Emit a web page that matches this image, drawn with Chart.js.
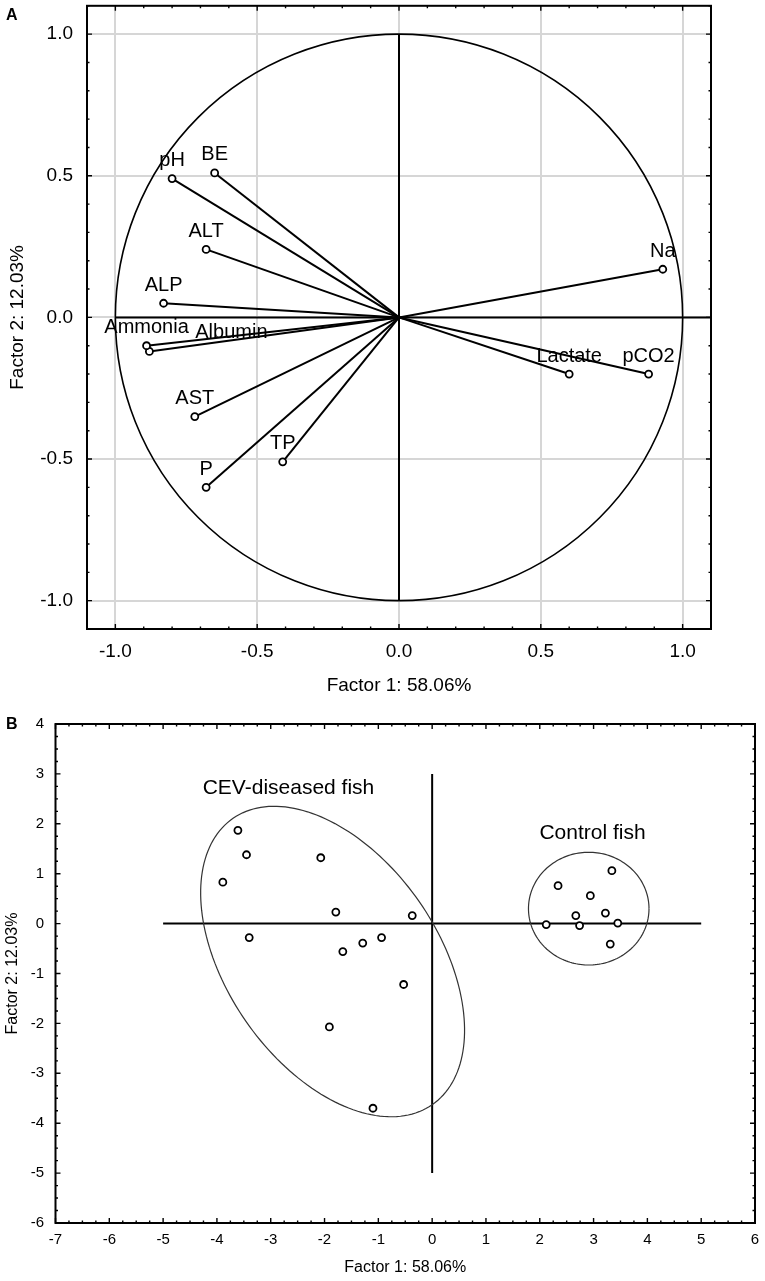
<!DOCTYPE html>
<html>
<head>
<meta charset="utf-8">
<script src="https://cdn.jsdelivr.net/npm/chart.js@4.4.1/dist/chart.umd.min.js"></script>
<style>
  body { margin: 0; background: #fff; width: 765px; height: 1281px; position: relative; overflow: hidden;
         font-family: "Liberation Sans", Arial, sans-serif; }
  .box { position: absolute; left: 0; width: 765px; }
  #boxA { top: 0; height: 700px; }
  #boxB { top: 700px; height: 581px; }
  .tag { position: absolute; left: 6px; font-weight: bold; font-size: 16px; line-height: 16px; color: #000; }
</style>
</head>
<body>
<div class="box" id="boxA"><canvas id="chartA"></canvas></div>
<div class="box" id="boxB"><canvas id="chartB"></canvas></div>
<div class="tag" style="top:7px">A</div>
<div class="tag" style="top:716px">B</div>
<script>
const FONT = '"Liberation Sans", Arial, sans-serif';

// panel A - factor loadings
const variables = ['pH', 'BE', 'ALT', 'ALP', 'Ammonia', 'Albumin', 'AST', 'TP', 'P', 'Lactate', 'pCO2', 'Na'];
const loading1 = [-0.80, -0.65, -0.68, -0.83, -0.89, -0.88, -0.72, -0.41, -0.68, 0.60, 0.88, 0.93];
const loading2 = [0.49, 0.51, 0.24, 0.05, -0.10, -0.12, -0.35, -0.51, -0.60, -0.20, -0.20, 0.17];
const loadingTicks = [-1.0, -0.5, 0.0, 0.5, 1.0];

// panel B - case scores
const cevX = [-3.61, -3.45, -3.89, -2.07, -1.79, -0.37, -3.40, -0.94, -1.29, -1.66, -0.53, -1.91, -1.10];
const cevY = [1.87, 1.38, 0.83, 1.32, 0.23, 0.16, -0.28, -0.28, -0.39, -0.56, -1.22, -2.07, -3.70];
const controlX = [3.34, 2.34, 2.94, 2.67, 3.22, 2.12, 2.74, 3.45, 3.31];
const controlY = [1.06, 0.76, 0.56, 0.16, 0.21, -0.02, -0.04, 0.01, -0.41];
const groupNames = ['CEV-diseased fish', 'Control fish'];
const scoreTicksX = [-7, -6, -5, -4, -3, -2, -1, 0, 1, 2, 3, 4, 5, 6];
const scoreTicksY = [-6, -5, -4, -3, -2, -1, 0, 1, 2, 3, 4];

// frame with inward major/minor ticks on all four sides
function drawFrame(chart, minorStep, majorStep) {
  const {ctx, chartArea: a, scales: {x, y}} = chart;
  ctx.save();
  ctx.strokeStyle = '#000';
  ctx.lineWidth = 1.4;
  ctx.beginPath();
  const mark = (scale, horiz) => {
    const n0 = Math.ceil(scale.min / minorStep - 1e-6);
    const n1 = Math.floor(scale.max / minorStep + 1e-6);
    for (let i = n0; i <= n1; i++) {
      const v = i * minorStep;
      const len = Math.abs(v / majorStep - Math.round(v / majorStep)) < 1e-6 ? 5 : 2.5;
      const p = scale.getPixelForValue(v);
      if (horiz) {
        ctx.moveTo(p, a.bottom); ctx.lineTo(p, a.bottom - len);
        ctx.moveTo(p, a.top); ctx.lineTo(p, a.top + len);
      } else {
        ctx.moveTo(a.left, p); ctx.lineTo(a.left + len, p);
        ctx.moveTo(a.right, p); ctx.lineTo(a.right - len, p);
      }
    }
  };
  mark(x, true);
  mark(y, false);
  ctx.stroke();
  ctx.lineWidth = 2;
  ctx.strokeRect(a.left, a.top, a.right - a.left, a.bottom - a.top);
  ctx.restore();
}

const labelShift = {Albumin: [82, -19]};

const loadingDecor = {
  id: 'loadingDecor',
  beforeDatasetsDraw(chart) {
    const {ctx, scales: {x, y}} = chart;
    const cx = x.getPixelForValue(0), cy = y.getPixelForValue(0);
    ctx.save();
    ctx.strokeStyle = '#000';
    ctx.lineWidth = 1.6;
    ctx.beginPath();
    ctx.ellipse(cx, cy, x.getPixelForValue(1) - cx, cy - y.getPixelForValue(1), 0, 0, Math.PI * 2);
    ctx.stroke();
    ctx.lineWidth = 2;
    ctx.beginPath();
    ctx.moveTo(x.getPixelForValue(-1), cy); ctx.lineTo(x.getPixelForValue(1.1), cy);
    ctx.moveTo(cx, y.getPixelForValue(1)); ctx.lineTo(cx, y.getPixelForValue(-1));
    ctx.stroke();
    ctx.restore();
  },
  afterDatasetsDraw(chart) {
    const {ctx} = chart;
    ctx.save();
    ctx.fillStyle = '#000';
    ctx.font = '20px ' + FONT;
    ctx.textAlign = 'center';
    ctx.textBaseline = 'middle';
    variables.forEach((name, i) => {
      const pt = chart.getDatasetMeta(i).data[1];
      const [dx, dy] = labelShift[name] || [0, -18];
      ctx.fillText(name, pt.x + dx, pt.y + dy);
    });
    ctx.restore();
    drawFrame(chart, 0.1, 0.5);
  }
};

const scoreDecor = {
  id: 'scoreDecor',
  beforeDatasetsDraw(chart) {
    const {ctx, scales: {x, y}} = chart;
    ctx.save();
    ctx.strokeStyle = '#000';
    ctx.lineWidth = 2;
    ctx.beginPath();
    ctx.moveTo(x.getPixelForValue(-5), y.getPixelForValue(0));
    ctx.lineTo(x.getPixelForValue(5), y.getPixelForValue(0));
    ctx.moveTo(x.getPixelForValue(0), y.getPixelForValue(3));
    ctx.lineTo(x.getPixelForValue(0), y.getPixelForValue(-5));
    ctx.stroke();

    // group ellipses: centre and two conjugate semi-axes in data units
    const ellipses = [
      {c: [-1.85, -0.76], u: [1.85, -2.87], v: [-1.61, -1.20]},
      {c: [2.91, 0.30], u: [1.12, 0], v: [0, 1.13]}
    ];
    ctx.strokeStyle = '#333';
    ctx.lineWidth = 1.2;
    ellipses.forEach(e => {
      ctx.beginPath();
      for (let k = 0; k <= 180; k++) {
        const t = k / 180 * Math.PI * 2;
        const px = x.getPixelForValue(e.c[0] + Math.cos(t) * e.u[0] + Math.sin(t) * e.v[0]);
        const py = y.getPixelForValue(e.c[1] + Math.cos(t) * e.u[1] + Math.sin(t) * e.v[1]);
        if (k === 0) ctx.moveTo(px, py); else ctx.lineTo(px, py);
      }
      ctx.stroke();
    });

    const anchors = [[-2.67, 2.71], [2.98, 1.81]];
    ctx.fillStyle = '#000';
    ctx.font = '21px ' + FONT;
    ctx.textAlign = 'center';
    ctx.textBaseline = 'middle';
    groupNames.forEach((g, i) => {
      ctx.fillText(g, x.getPixelForValue(anchors[i][0]), y.getPixelForValue(anchors[i][1]));
    });
    ctx.restore();
  },
  afterDatasetsDraw(chart) {
    drawFrame(chart, 0.25, 1);
  }
};

const pointStyle = {
  pointRadius: 3.5,
  pointBorderWidth: 1.8,
  pointBorderColor: '#000',
  pointBackgroundColor: '#fff'
};

new Chart(document.getElementById('chartA'), {
  type: 'scatter',
  data: {
    datasets: variables.map((name, i) => ({
      label: name,
      data: [{x: 0, y: 0}, {x: loading1[i], y: loading2[i]}],
      showLine: true,
      borderColor: '#000',
      borderWidth: 2,
      ...pointStyle,
      pointRadius: [0, 3.5]
    }))
  },
  options: {
    responsive: true,
    maintainAspectRatio: false,
    animation: false,
    layout: {padding: {top: 5, right: 54, bottom: 0, left: 0}},
    plugins: {legend: {display: false}, tooltip: {enabled: false}},
    scales: {
      x: {
        type: 'linear', min: -1.1, max: 1.1,
        afterBuildTicks: s => { s.ticks = loadingTicks.map(v => ({value: v})); },
        afterFit: s => { s.height = 71; s.paddingLeft = 0; s.paddingRight = 0; },
        grid: {color: '#d6d6d6', lineWidth: 2, drawTicks: false},
        border: {display: false},
        ticks: {color: '#000', font: {family: FONT, size: 19}, padding: 11, maxRotation: 0, autoSkip: false,
                callback: v => v.toFixed(1)},
        title: {display: true, text: 'Factor 1: 58.06%', color: '#000', font: {family: FONT, size: 19},
                padding: {top: 0, bottom: 2.6}}
      },
      y: {
        type: 'linear', min: -1.1, max: 1.1,
        afterBuildTicks: s => { s.ticks = loadingTicks.map(v => ({value: v})); },
        afterFit: s => { s.width = 87; s.paddingTop = 0; s.paddingBottom = 0; },
        grid: {color: '#d6d6d6', lineWidth: 2, drawTicks: false},
        border: {display: false},
        ticks: {color: '#000', font: {family: FONT, size: 19}, padding: 14, autoSkip: false,
                callback: v => v.toFixed(1)},
        title: {display: true, text: 'Factor 2: 12.03%', color: '#000', font: {family: FONT, size: 19},
                padding: {top: 6.6, bottom: 0}}
      }
    }
  },
  plugins: [loadingDecor]
});

new Chart(document.getElementById('chartB'), {
  type: 'scatter',
  data: {
    datasets: [
      {label: groupNames[0], data: cevX.map((v, i) => ({x: v, y: cevY[i]})), ...pointStyle},
      {label: groupNames[1], data: controlX.map((v, i) => ({x: v, y: controlY[i]})), ...pointStyle}
    ]
  },
  options: {
    responsive: true,
    maintainAspectRatio: false,
    animation: false,
    layout: {padding: {top: 24, right: 10, bottom: 0, left: 0}},
    plugins: {legend: {display: false}, tooltip: {enabled: false}},
    scales: {
      x: {
        type: 'linear', min: -7, max: 6,
        afterBuildTicks: s => { s.ticks = scoreTicksX.map(v => ({value: v})); },
        afterFit: s => { s.height = 58; s.paddingLeft = 0; s.paddingRight = 0; },
        grid: {display: false, drawTicks: false},
        border: {display: false},
        ticks: {color: '#000', font: {family: FONT, size: 15}, padding: 8, maxRotation: 0, autoSkip: false},
        title: {display: true, text: 'Factor 1: 58.06%', color: '#000', font: {family: FONT, size: 16},
                padding: {top: 0, bottom: 3.4}}
      },
      y: {
        type: 'linear', min: -6, max: 4,
        afterBuildTicks: s => { s.ticks = scoreTicksY.map(v => ({value: v})); },
        afterFit: s => { s.width = 55.5; s.paddingTop = 0; s.paddingBottom = 0; },
        grid: {display: false, drawTicks: false},
        border: {display: false},
        ticks: {color: '#000', font: {family: FONT, size: 15}, padding: 11.5, autoSkip: false},
        title: {display: true, text: 'Factor 2: 12.03%', color: '#000', font: {family: FONT, size: 16},
                padding: {top: 3.4, bottom: 0}}
      }
    }
  },
  plugins: [scoreDecor]
});
</script>
</body>
</html>
